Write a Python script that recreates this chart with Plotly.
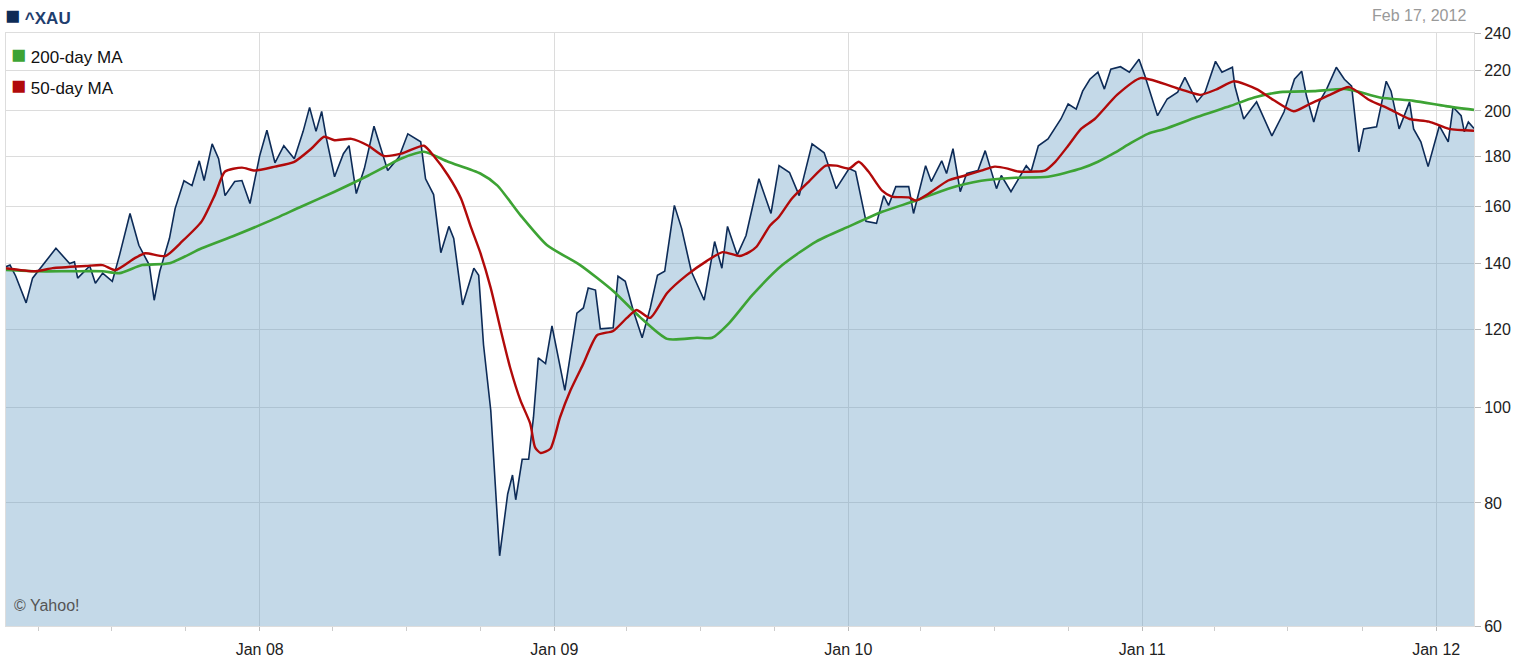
import plotly.graph_objects as go

price_dates = ["2007-02-20","2007-02-25","2007-03-04","2007-03-17","2007-03-25","2007-04-07","2007-04-23","2007-05-10","2007-05-16","2007-05-20",
"2007-06-04","2007-06-11","2007-06-20","2007-07-02","2007-07-11","2007-07-24","2007-08-04","2007-08-17","2007-08-23","2007-08-30",
"2007-09-11","2007-09-18","2007-09-29","2007-10-09","2007-10-18","2007-10-24","2007-11-03","2007-11-11","2007-11-19","2007-12-01",
"2007-12-10","2007-12-20","2008-01-01","2008-01-10","2008-01-20","2008-01-31","2008-02-13","2008-02-24","2008-03-03","2008-03-11",
"2008-03-18","2008-03-24","2008-04-03","2008-04-14","2008-04-21","2008-04-30","2008-05-10","2008-05-22","2008-06-02","2008-06-08",
"2008-06-22","2008-07-03","2008-07-19","2008-07-25","2008-08-04","2008-08-13","2008-08-23","2008-08-29","2008-09-09","2008-09-23",
"2008-09-29","2008-10-05","2008-10-14","2008-10-20","2008-10-25","2008-11-04","2008-11-10","2008-11-14","2008-11-22","2008-11-30",
"2008-12-06","2008-12-12","2008-12-21","2008-12-29","2009-01-14","2009-01-29","2009-02-06","2009-02-12","2009-02-21","2009-02-27",
"2009-03-15","2009-03-21","2009-03-30","2009-04-09","2009-04-20","2009-04-30","2009-05-09","2009-05-18","2009-05-30","2009-06-08",
"2009-06-20","2009-07-06","2009-07-19","2009-07-28","2009-08-04","2009-08-16","2009-08-27","2009-09-12","2009-09-27","2009-10-07",
"2009-10-20","2009-11-01","2009-11-17","2009-12-02","2009-12-17","2010-01-02","2010-01-10","2010-01-23","2010-02-05","2010-02-14",
"2010-02-20","2010-03-01","2010-03-17","2010-03-23","2010-04-07","2010-04-14","2010-04-27","2010-05-03","2010-05-11","2010-05-20",
"2010-05-28","2010-06-11","2010-06-20","2010-07-04","2010-07-10","2010-07-22","2010-08-10","2010-08-16","2010-08-25","2010-09-06",
"2010-09-22","2010-10-01","2010-10-11","2010-10-19","2010-10-28","2010-11-07","2010-11-15","2010-11-23","2010-12-05","2010-12-16",
"2010-12-28","2011-01-04","2011-01-20","2011-02-01","2011-02-14","2011-02-23","2011-03-10","2011-03-20","2011-04-02","2011-04-10",
"2011-04-23","2011-04-26","2011-05-07","2011-05-23","2011-06-11","2011-06-26","2011-07-09","2011-07-18","2011-07-24","2011-08-02",
"2011-08-09","2011-08-18","2011-08-30","2011-09-09","2011-09-18","2011-09-27","2011-10-03","2011-10-19","2011-10-31","2011-11-06",
"2011-11-16","2011-11-29","2011-12-04","2011-12-13","2011-12-22","2012-01-05","2012-01-16","2012-01-22","2012-02-01","2012-02-05",
"2012-02-10","2012-02-17"]
price_values = [139,139.5,136,127.7,135.3,139.5,145.1,140,140.6,135.3,
139.2,133.7,136.9,134.3,142.8,157.4,146.1,139.5,128.5,137.5,
148.5,159.2,169.9,168,178,170,185.2,178.9,164.1,169.6,
170,161.1,180.1,191.2,177.2,184.4,178.9,190.7,201.7,190.7,
199.8,187.4,171.5,181,184.4,164.9,174.8,193,180.1,174,
179.6,189.6,186.1,170.7,164.5,143.6,152.7,148.5,127.1,138.5,
136.2,115.8,99.3,81.7,70.7,81.7,85.4,80.6,88.6,88.6,
97.7,112.3,110.8,121,104.1,124.7,126.2,132.2,131.6,120.2,
120.5,135.9,134.3,125.4,117.7,126.2,136.2,137.5,160.4,152,
137.5,128.5,147.4,138.5,152.7,142.8,149.5,170.7,157.4,176,
173.2,164.1,185.2,181.4,166.8,174.8,173.6,154.5,153.8,164.1,
160.4,167.6,167.6,157.4,176,169.6,178,172.8,183.1,165.6,
172.8,174,182.3,166.8,172,165.6,176,173.6,184.4,187.4,
196.3,203.3,200.9,209.5,215.4,219,210.5,220.5,221.8,219,
225.7,217.5,197.8,205.7,209,216.4,204.3,209,224.6,219,
221.5,212,196.3,204.3,188.7,199.5,215.4,219.5,207.1,194.9,
204.3,210.5,221.5,215.4,212,181.8,191.8,192.7,214.4,209.5,
191.8,204.3,191.8,186.1,175.6,193.2,186.1,201.9,197.8,190.5,
194.9,192]

ma50_dates = ["2007-02-20","2007-03-29","2007-04-19","2007-05-30","2007-06-20","2007-07-06","2007-07-30","2007-08-12","2007-09-06","2007-09-27",
"2007-10-21","2007-11-06","2007-11-19","2007-12-10","2007-12-26","2008-01-20","2008-02-13","2008-03-05","2008-03-21","2008-04-03",
"2008-04-24","2008-05-15","2008-06-03","2008-06-25","2008-07-23","2008-08-04","2008-08-22","2008-09-07","2008-09-19","2008-10-01",
"2008-10-14","2008-10-26","2008-11-07","2008-11-20","2008-12-02","2008-12-08","2008-12-15","2008-12-27","2009-01-08","2009-01-21",
"2009-02-06","2009-02-23","2009-03-15","2009-04-01","2009-04-13","2009-04-30","2009-05-21","2009-06-14","2009-07-09","2009-07-29",
"2009-08-19","2009-08-31","2009-09-09","2009-09-25","2009-10-07","2009-10-23","2009-11-13","2009-12-04","2009-12-17","2010-01-02",
"2010-01-14","2010-01-26","2010-02-12","2010-02-24","2010-03-17","2010-03-26","2010-04-11","2010-05-05","2010-05-26","2010-06-15",
"2010-07-02","2010-07-18","2010-07-31","2010-08-21","2010-09-02","2010-09-15","2010-10-01","2010-10-17","2010-11-03","2010-12-01",
"2010-12-30","2011-02-17","2011-03-14","2011-04-04","2011-04-25","2011-05-23","2011-06-13","2011-07-08","2011-07-28","2011-08-22",
"2011-09-15","2011-10-10","2011-11-04","2011-11-29","2011-12-23","2012-01-17","2012-02-17"]
ma50_values = [138.5,137.5,138.5,139.2,139.5,137.9,141.8,143.4,142.5,147.5,
154.5,164.1,173.6,175.2,174,175.6,177.6,183.1,188.3,186.8,
187.4,184.4,180.1,181,184.4,180.1,172,163,152.7,143.6,
132.2,120.2,109.8,101.6,96.3,91.1,89.9,90.8,97.7,104.1,
110.8,118.4,119.6,123.3,125.6,123.3,130.7,136.2,140.8,143.8,
142.5,143.8,145.6,152.7,156.2,163,169.6,176,176,174.8,
177.6,173.6,166,163.7,163.4,162.2,164.9,170,172,174,
175.6,174.8,173.6,173.6,174,177.6,184.4,191.8,196.3,207.8,
216,210.5,207.7,210.5,214.4,210.5,205.2,199.9,203.3,207.7,
211.5,205.2,200.9,196.3,195.1,191.8,191]

ma200_dates = ["2007-02-20","2007-03-29","2007-05-10","2007-06-20","2007-07-11","2007-08-08","2007-09-11","2007-10-21","2007-12-01","2008-01-12",
"2008-02-22","2008-04-03","2008-05-15","2008-06-25","2008-07-23","2008-08-22","2008-10-01","2008-10-22","2008-11-20","2008-12-23",
"2009-02-02","2009-03-15","2009-04-17","2009-05-21","2009-06-27","2009-07-16","2009-08-06","2009-09-04","2009-10-11","2009-11-22",
"2010-01-02","2010-02-12","2010-03-26","2010-05-05","2010-06-15","2010-07-27","2010-09-06","2010-10-17","2010-11-07","2010-11-28",
"2010-12-18","2011-01-08","2011-01-29","2011-03-10","2011-04-20","2011-05-20","2011-06-21","2011-08-02","2011-09-12","2011-10-23",
"2011-12-04","2012-01-13","2012-02-17"]
ma200_values = [137.9,137.5,137.5,137.5,136.9,139.5,140.1,145.1,149.5,154.5,
160,165.6,172,179,181.8,177.6,172.8,168.1,156.7,146.1,
139.5,131.3,123.6,117.4,117.7,117.7,121.8,130.1,139.5,147.4,
152.7,158,162.2,166.8,169.9,171.1,171.5,174.8,177.6,181.4,
185.6,189.6,191.8,197.2,202.3,206.4,209,209.5,210.5,206.4,
204.8,202.3,200.5]

y_ticks = [60, 80, 100, 120, 140, 160, 180, 200, 220, 240]
x_tick_dates = ["2008-01-01", "2009-01-01", "2010-01-01", "2011-01-01", "2012-01-01"]
x_tick_text = ["Jan 08", "Jan 09", "Jan 10", "Jan 11", "Jan 12"]

NAVY = "#0d2b57"
GREEN = "#3da334"
RED = "#b10a0a"
FONT = "Liberation Sans, Arial, sans-serif"

fig = go.Figure()
fig.add_trace(go.Scatter(x=price_dates, y=price_values, mode="lines",
                         line=dict(color=NAVY, width=1.6), fill="tozeroy",
                         fillcolor="rgba(100,155,195,0.38)", hoverinfo="skip"))
fig.add_trace(go.Scatter(x=ma200_dates, y=ma200_values, mode="lines",
                         line=dict(color=GREEN, width=2.6, shape="spline", smoothing=0.6), hoverinfo="skip"))
fig.add_trace(go.Scatter(x=ma50_dates, y=ma50_values, mode="lines",
                         line=dict(color=RED, width=2.4, shape="spline", smoothing=0.6), hoverinfo="skip"))

fig.update_layout(
    width=1525, height=663,
    margin=dict(l=5, r=51, t=33, b=35),
    paper_bgcolor="white", plot_bgcolor="white",
    showlegend=False,
    font=dict(family=FONT, size=16, color="#222"),
    xaxis=dict(type="date", range=["2007-02-20", "2012-02-17"],
               tickvals=x_tick_dates, ticktext=x_tick_text,
               showgrid=True, gridcolor="#dcdcdc", gridwidth=1,
               ticks="outside", ticklen=4, tickcolor="#bbbbbb",
               ticklabelstandoff=5,
               minor=dict(dtick="M3", tick0="2008-01-01", ticks="outside", ticklen=4,
                          tickcolor="#cccccc", showgrid=False),
               showline=True, linecolor="#dddddd", mirror=True, zeroline=False,
               tickfont=dict(size=16, color="#222")),
    yaxis=dict(type="log", range=[1.7781513, 2.3802112], side="right",
               tickvals=y_ticks, ticktext=[str(v) for v in y_ticks],
               showgrid=True, gridcolor="#dcdcdc", gridwidth=1,
               ticks="outside", ticklen=6, tickcolor="#bbbbbb",
               showline=True, linecolor="#dddddd", mirror=True, zeroline=False,
               tickfont=dict(size=16, color="#222")),
)

SQ = "font-size:25px"
fig.add_annotation(xref="paper", yref="paper", x=-0.002, y=1.03, xanchor="left", yanchor="middle",
                   text=f"<span style='color:{NAVY};{SQ}'>■</span> <b>^XAU</b>", showarrow=False,
                   font=dict(family=FONT, size=17, color="#1f3e6e"))
fig.add_annotation(xref="paper", yref="paper", x=0.996, y=1.03, xanchor="right", yanchor="middle",
                   text="Feb 17, 2012", showarrow=False, font=dict(family=FONT, size=16, color="#999999"))
fig.add_annotation(xref="paper", yref="paper", x=0.002, y=0.965, xanchor="left", yanchor="middle",
                   text=f"<span style='color:{GREEN};{SQ}'>■</span> 200-day MA", showarrow=False,
                   font=dict(family=FONT, size=17, color="#111"))
fig.add_annotation(xref="paper", yref="paper", x=0.002, y=0.913, xanchor="left", yanchor="middle",
                   text=f"<span style='color:{RED};{SQ}'>■</span> 50-day MA", showarrow=False,
                   font=dict(family=FONT, size=17, color="#111"))
fig.add_annotation(xref="paper", yref="paper", x=0.004, y=0.035, xanchor="left", yanchor="middle",
                   text="© Yahoo!", showarrow=False, font=dict(family=FONT, size=16, color="#555"))

fig.write_html("out.html", config={"displayModeBar": False},
               post_script="document.body.style.margin='0px';")
